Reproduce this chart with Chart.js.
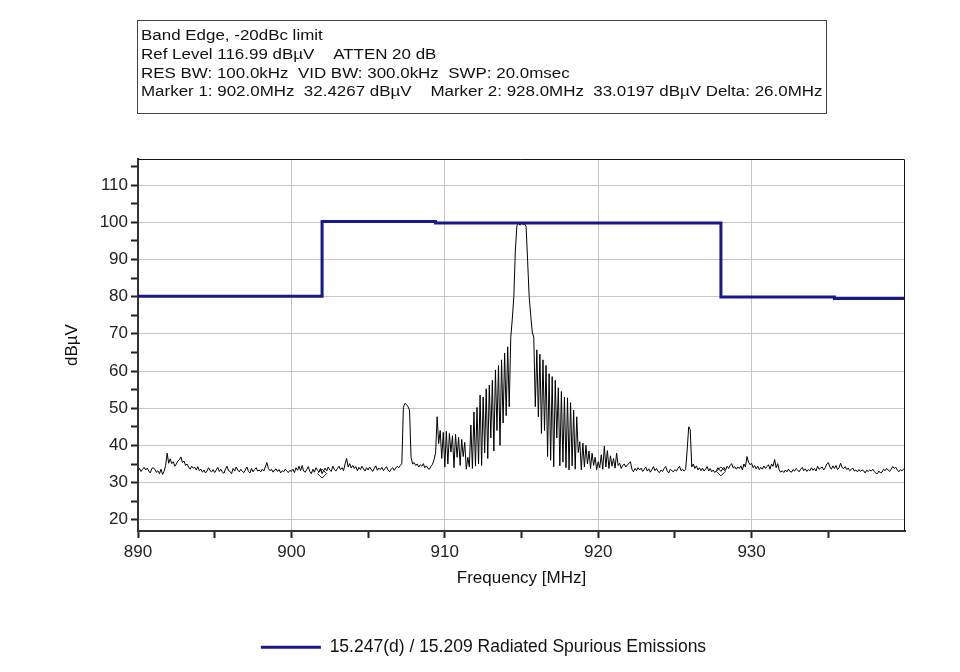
<!DOCTYPE html>
<html lang="en">
<head>
  <meta charset="UTF-8">
  <title>Band Edge, -20dBc limit</title>
  <script src="https://cdn.jsdelivr.net/npm/chart.js"></script>
  <style>
    html, body { margin: 0; padding: 0; background: #fff; }
    #wrap { width: 960px; height: 672px; }
  </style>
</head>
<body>
  <div id="wrap">
    <canvas id="bandEdgeChart" width="960" height="672"></canvas>
  </div>

  <script>
    // Header text of the analyzer plot
    const headerLines = [
      'Band Edge, -20dBc limit',
      'Ref Level 116.99 dB\u00b5V    ATTEN 20 dB',
      'RES BW: 100.0kHz  VID BW: 300.0kHz  SWP: 20.0msec',
      'Marker 1: 902.0MHz  32.4267 dB\u00b5V    Marker 2: 928.0MHz  33.0197 dB\u00b5V Delta: 26.0MHz'
    ];

    // Sweep: 890.0 .. 940.0 MHz, 0.1 MHz per point
    const sweepStart = 890;
    const sweepStep = 0.1;
    const traceLevels = [
      33.2, 33.8, 33.0, 33.6, 34.1, 33.4, 33.9, 33.1, 32.6, 33.8, // 890
      34.0, 33.5, 32.8, 33.2, 32.4, 33.6, 32.2, 33.0, 34.6, 37.9, // 891
      35.2, 36.4, 35.1, 35.6, 34.4, 35.0, 35.8, 36.1, 36.9, 35.4, // 892
      35.8, 34.6, 35.0, 34.2, 33.6, 34.4, 33.9, 34.1, 33.4, 34.3, // 893
      33.2, 33.6, 32.8, 33.4, 32.6, 33.1, 34.0, 33.2, 32.9, 33.5, // 894
      32.7, 33.4, 34.1, 33.0, 33.6, 32.8, 32.5, 33.6, 34.4, 33.2, // 895
      33.0, 32.4, 33.8, 33.1, 34.2, 33.4, 32.9, 33.6, 33.0, 32.7, // 896
      33.4, 34.2, 33.0, 32.6, 33.8, 32.9, 33.5, 34.0, 33.1, 33.4, // 897
      32.9, 33.6, 33.1, 34.2, 35.4, 33.8, 33.2, 33.6, 32.8, 33.4, // 898
      33.7, 33.0, 33.5, 32.6, 33.2, 32.9, 33.6, 33.1, 32.7, 33.3, // 899
      33.0, 33.6, 32.7, 34.0, 33.3, 34.4, 33.2, 34.6, 33.1, 32.8, // 900
      33.5, 34.3, 33.0, 32.4, 33.6, 32.8, 34.0, 33.3, 32.9, 33.8, // 901
      32.4, 33.2, 33.9, 33.1, 34.2, 33.4, 33.0, 34.4, 33.6, 33.1, // 902
      33.8, 34.4, 33.5, 34.0, 33.2, 35.0, 36.5, 34.2, 35.1, 33.9, // 903
      34.6, 33.8, 34.3, 33.2, 34.1, 33.5, 34.4, 33.7, 33.1, 34.0, // 904
      33.4, 34.2, 33.6, 33.0, 33.8, 34.5, 33.3, 33.9, 33.5, 34.1, // 905
      33.2, 33.8, 34.3, 33.4, 32.9, 33.6, 34.0, 33.3, 33.9, 34.4, // 906
      34.0, 34.6, 35.2, 50.2, 51.3, 51.0, 50.4, 49.5, 36.8, 35.0, // 907
      35.4, 34.6, 35.0, 34.2, 34.8, 34.4, 35.1, 34.0, 34.5, 33.8, // 908
      33.6, 34.4, 34.9, 36.2, 38.0, 47.7, 40.5, 44.0, 36.5, 43.5, // 909
      34.2, 43.8, 35.0, 43.2, 38.2, 42.6, 34.0, 43.0, 36.8, 42.2, // 910
      34.6, 41.6, 37.0, 40.8, 33.6, 36.8, 34.2, 45.5, 33.8, 49.0, // 911
      34.5, 50.2, 35.0, 53.5, 34.6, 53.0, 38.0, 55.2, 36.5, 56.2, // 912
      42.0, 57.5, 38.5, 60.3, 44.0, 61.5, 40.0, 63.0, 46.0, 64.8, // 913
      48.0, 66.5, 50.4, 69.0, 74.0, 80.0, 92.5, 99.0, 99.8, 99.2, // 914
      99.9, 99.3, 99.7, 98.8, 89.5, 80.0, 75.0, 70.5, 69.0, 50.4, // 915
      65.7, 47.7, 64.5, 43.2, 63.0, 44.0, 61.5, 37.0, 59.3, 36.0, // 916
      58.5, 34.3, 57.5, 42.0, 55.5, 34.5, 54.5, 35.5, 53.0, 34.0, // 917
      52.8, 33.4, 51.5, 34.5, 49.5, 33.6, 47.7, 38.1, 41.0, 33.4, // 918
      40.6, 34.2, 40.0, 35.0, 38.5, 33.8, 37.9, 34.6, 36.8, 33.5, // 919
      35.6, 34.0, 37.5, 33.6, 39.8, 34.2, 38.6, 33.8, 37.2, 34.4, // 920
      36.5, 33.9, 37.9, 34.6, 35.2, 33.8, 34.6, 35.0, 34.2, 34.8, // 921
      35.1, 35.6, 33.6, 32.9, 33.8, 33.2, 34.0, 33.4, 33.9, 33.0, // 922
      33.6, 34.2, 33.1, 33.7, 32.8, 33.5, 34.3, 33.2, 33.8, 33.0, // 923
      32.7, 33.4, 33.0, 33.8, 34.3, 33.1, 32.6, 33.6, 33.2, 32.9, // 924
      33.5, 33.1, 33.8, 34.4, 33.2, 33.6, 33.1, 33.5, 38.8, 45.0, // 925
      44.2, 34.2, 35.0, 33.8, 34.5, 33.4, 34.0, 33.2, 33.9, 33.1, // 926
      33.6, 34.3, 33.1, 33.8, 32.9, 33.4, 32.7, 33.2, 34.0, 33.5, // 927
      33.0, 33.6, 34.1, 33.3, 34.4, 33.8, 34.6, 35.1, 33.9, 34.3, // 928
      33.6, 34.2, 33.8, 34.5, 33.4, 35.0, 34.2, 37.0, 35.5, 34.8, // 929
      35.2, 34.0, 34.6, 33.7, 34.4, 33.5, 34.1, 33.6, 34.5, 33.8, // 930
      34.3, 34.8, 33.6, 35.0, 34.4, 36.2, 34.0, 35.1, 33.4, 32.8, // 931
      33.2, 32.7, 33.4, 32.9, 33.6, 33.0, 32.8, 33.5, 33.1, 33.8, // 932
      33.4, 32.9, 33.6, 34.1, 33.2, 33.7, 33.0, 33.5, 33.2, 34.0, // 933
      33.3, 33.8, 33.1, 34.4, 33.6, 33.9, 34.2, 33.4, 34.0, 35.0, // 934
      35.4, 34.2, 33.6, 34.5, 33.8, 34.6, 33.5, 34.0, 35.2, 34.1, // 935
      33.8, 34.3, 33.5, 33.9, 33.2, 33.6, 33.9, 33.1, 33.4, 32.9, // 936
      33.5, 33.0, 33.4, 33.2, 32.6, 33.3, 33.0, 33.4, 33.1, 33.6, // 937
      33.0, 32.5, 32.4, 33.1, 32.6, 32.8, 33.6, 33.2, 33.8, 33.4, // 938
      33.0, 33.6, 34.3, 33.8, 34.1, 33.4, 32.9, 33.5, 33.2, 33.6, // 939
      33.4                                                        // 940
    ];

    // Limit line (15.247(d) / 15.209)
    const limitFreqs  = [890, 902, 902, 909.4, 909.4, 928, 928, 935.4, 935.4, 940];
    const limitLevels = [80.1, 80.1, 100.2, 100.2, 99.8, 99.8, 79.9, 79.9, 79.5, 79.5];
    const limitLabel = '15.247(d) / 15.209 Radiated Spurious Emissions';

    // Markers
    const markerFreqs  = [902.0, 928.0];
    const markerLevels = [32.4267, 33.0197];

    // Axis ticks (labels on multiples of 10)
    const xTicks = [890, 895, 900, 905, 910, 915, 920, 925, 930, 935];
    const yTicks = [20, 25, 30, 35, 40, 45, 50, 55, 60, 65, 70, 75, 80, 85, 90, 95, 100, 105, 110, 115];

    const FONT = '"Liberation Sans", Arial, sans-serif';
    Chart.defaults.font.family = FONT;
    Chart.defaults.color = '#222';

    const tracePoints = traceLevels.map((v, i) => ({ x: +(sweepStart + i * sweepStep).toFixed(1), y: v }));
    const limitPoints = limitFreqs.map((f, i) => ({ x: f, y: limitLevels[i] }));
    const markerPoints = markerFreqs.map((f, i) => ({ x: f, y: markerLevels[i] }));

    // header box + thin top/right frame of the plot
    const headerAndFrame = {
      id: 'headerAndFrame',
      afterDraw(chart) {
        const ctx = chart.ctx;
        const a = chart.chartArea;
        ctx.save();
        ctx.strokeStyle = '#111';
        ctx.lineWidth = 1;
        ctx.beginPath();
        ctx.moveTo(a.left, a.top + 0.5);
        ctx.lineTo(a.right - 0.5, a.top + 0.5);
        ctx.lineTo(a.right - 0.5, a.bottom);
        ctx.stroke();

        ctx.strokeStyle = '#444';
        ctx.strokeRect(137.5, 20.5, 689, 93);
        ctx.fillStyle = '#111';
        ctx.font = '14px ' + FONT;
        ctx.textBaseline = 'alphabetic';
        headerLines.forEach((line, i) => {
          ctx.save();
          ctx.translate(141, 40 + i * 18.8);
          ctx.scale(1.21, 1);
          ctx.fillText(line, 0, 0);
          ctx.restore();
        });
        ctx.restore();
      }
    };

    const tickFont = { size: 17 };

    new Chart(document.getElementById('bandEdgeChart').getContext('2d'), {
      type: 'line',
      data: {
        datasets: [
          {
            label: limitLabel,
            data: limitPoints,
            borderColor: '#18188a',
            backgroundColor: '#18188a',
            borderWidth: 3,
            pointRadius: 0,
            tension: 0,
            order: 0
          },
          {
            label: 'Trace',
            data: tracePoints,
            borderColor: '#000',
            borderWidth: 1,
            pointRadius: 0,
            tension: 0,
            order: 1
          },
          {
            label: 'Markers',
            data: markerPoints,
            showLine: false,
            pointStyle: 'rectRot',
            pointRadius: 4.5,
            pointBorderColor: '#222',
            pointBackgroundColor: 'rgba(255,255,255,0)',
            pointBorderWidth: 1,
            order: 2
          }
        ]
      },
      options: {
        responsive: false,
        animation: false,
        layout: { padding: { left: 62, right: 55, top: 159, bottom: 6 } },
        plugins: {
          tooltip: { enabled: false },
          legend: {
            position: 'bottom',
            labels: {
              filter: (item) => item.datasetIndex === 0,
              usePointStyle: true,
              pointStyle: 'line',
              pointStyleWidth: 60,
              padding: 10,
              color: '#111',
              font: { size: 17.5 }
            }
          }
        },
        scales: {
          x: {
            type: 'linear',
            min: 890,
            max: 940,
            afterBuildTicks: (scale) => { scale.ticks = xTicks.map(v => ({ value: v })); },
            afterFit: (scale) => { scale.height = 97.5; },
            ticks: {
              font: tickFont,
              padding: 4,
              maxRotation: 0,
              autoSkip: false,
              callback: (v) => (v % 10 === 0 ? v : '')
            },
            grid: {
              color: (c) => (c.tick && c.tick.value % 10 === 0 ? '#c6c6c6' : 'rgba(0,0,0,0)'),
              lineWidth: 1,
              tickLength: 7,
              tickColor: '#222',
              tickWidth: 2
            },
            border: { color: '#333', width: 2 },
            title: {
              display: true,
              text: 'Frequency [MHz]',
              font: { size: 17 },
              color: '#111',
              padding: { top: 0, bottom: 40 }
            }
          },
          y: {
            min: 16.99,
            max: 116.99,
            afterBuildTicks: (scale) => { scale.ticks = yTicks.map(v => ({ value: v })); },
            afterFit: (scale) => { scale.width = 76; },
            ticks: {
              font: tickFont,
              padding: 3,
              autoSkip: false,
              callback: (v) => (v % 10 === 0 ? v : '')
            },
            grid: {
              color: (c) => (c.tick && c.tick.value % 10 === 0 ? '#c6c6c6' : 'rgba(0,0,0,0)'),
              lineWidth: 1,
              tickLength: 7,
              tickColor: '#222',
              tickWidth: 2
            },
            border: { color: '#333', width: 2 },
            title: {
              display: true,
              text: 'dB\u00b5V',
              font: { size: 17 },
              color: '#111',
              padding: { top: 0, bottom: 0 }
            }
          }
        }
      },
      plugins: [headerAndFrame]
    });
  </script>
</body>
</html>
